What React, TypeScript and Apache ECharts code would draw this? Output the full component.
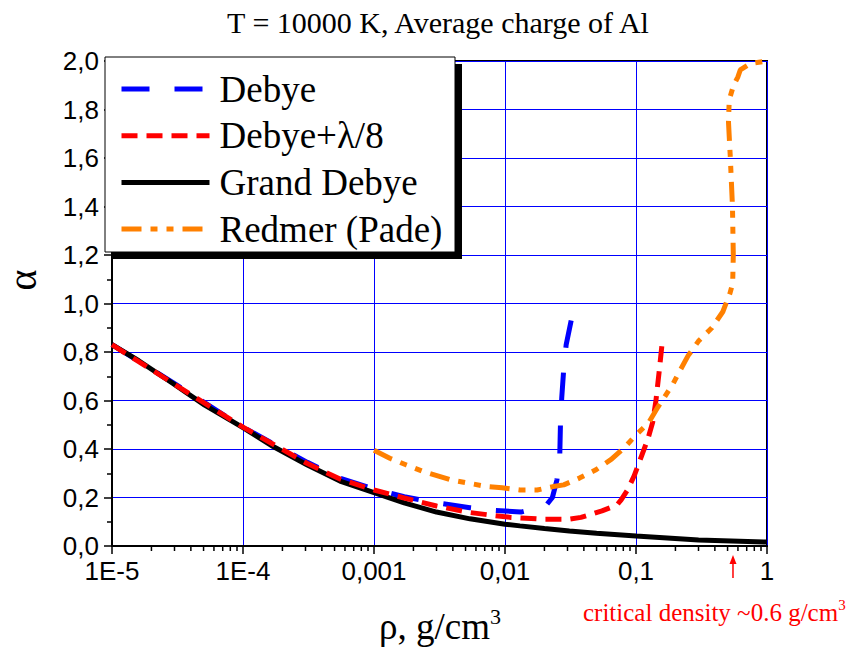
import React, { useEffect, useRef } from 'react';
import * as echarts from 'echarts';

const TITLE = 'T = 10000 K, Average charge of Al';
const X_NAME = 'ρ, g/cm';
const Y_NAME = 'α';
const NOTE = 'critical density ~0.6 g/cm';

const xTickExponents = [-5, -4, -3, -2, -1, 0];
const xTickLabels = ['1E-5', '1E-4', '0,001', '0,01', '0,1', '1'];
const minorMultipliers = [2, 3, 4, 5, 6, 7, 8, 9];

const seriesNames = ['Debye', 'Debye+λ/8', 'Grand Debye', 'Redmer (Pade)'];
const seriesColors = ['#0000ff', '#ff0000', '#000000', '#ff8000'];
const seriesDashes: any[] = [[28, 25], [16, 9], 'solid', [20, 9, 7, 9, 7, 9]];

const debyeRho = [1e-5, 2.9e-5, 1e-4, 3.1e-4, 5.5e-4, 1e-3, 1.7e-3, 3e-3, 5.4e-3, 8.4e-3, 1.32e-2, 2.05e-2, 2.3e-2, 2.49e-2, 2.62e-2, 2.65e-2, 2.71e-2, 2.8e-2, 2.93e-2, 3.2e-2];
const debyeAlpha = [0.83, 0.675, 0.49, 0.345, 0.28, 0.235, 0.203, 0.178, 0.158, 0.147, 0.14, 0.166, 0.2, 0.272, 0.38, 0.5, 0.61, 0.72, 0.83, 0.93];

const lambdaRho = [1e-5, 2.9e-5, 1e-4, 3.1e-4, 5.5e-4, 1e-3, 1.7e-3, 3e-3, 5.4e-3, 8.4e-3, 1.1e-2, 2e-2, 3e-2, 3.8e-2, 4.5e-2, 5.5e-2, 7.15e-2, 7.7e-2, 8.6e-2, 9.7e-2, 0.11, 0.123, 0.134, 0.142, 0.151, 0.16];
const lambdaAlpha = [0.83, 0.672, 0.49, 0.34, 0.276, 0.231, 0.198, 0.165, 0.138, 0.125, 0.118, 0.11, 0.11, 0.118, 0.13, 0.145, 0.169, 0.19, 0.23, 0.29, 0.37, 0.44, 0.51, 0.6, 0.73, 0.86];

const grandRho = [1e-5, 1.6e-5, 2.9e-5, 5.1e-5, 1e-4, 1.7e-4, 3.1e-4, 5.5e-4, 1e-3, 1.7e-3, 3e-3, 5.4e-3, 1e-2, 1.3e-2, 2e-2, 3.1e-2, 0.05, 0.1, 0.3, 1];
const grandAlpha = [0.83, 0.764, 0.671, 0.581, 0.488, 0.41, 0.334, 0.268, 0.22, 0.178, 0.14, 0.112, 0.09, 0.083, 0.072, 0.062, 0.053, 0.041, 0.025, 0.016];

const redmerRho = [0.001, 0.00132, 0.00177, 0.0024, 0.0039, 0.0054, 0.0073, 0.0095, 0.013, 0.0176, 0.0233, 0.0281, 0.037, 0.049, 0.065, 0.083, 0.1, 0.124, 0.147, 0.19, 0.22, 0.25, 0.3, 0.38, 0.46, 0.492, 0.522, 0.547, 0.553, 0.545, 0.525, 0.508, 0.515, 0.556, 0.6, 0.625, 0.75, 1.0];
const redmerAlpha = [0.395, 0.362, 0.334, 0.306, 0.272, 0.258, 0.245, 0.24, 0.231, 0.231, 0.245, 0.252, 0.28, 0.313, 0.358, 0.41, 0.458, 0.506, 0.573, 0.665, 0.73, 0.785, 0.845, 0.9, 0.966, 1.007, 1.043, 1.083, 1.2, 1.4, 1.6, 1.75, 1.84, 1.9, 1.935, 1.963, 1.99, 2.0];

const criticalDensityRho = 0.55;

const SERIF = "'Liberation Serif', 'Times New Roman', Times, serif";
const SANS = "'Liberation Sans Narrow', 'Arial Narrow', 'Liberation Sans', Arial, sans-serif";

const pairs = (xs: number[], ys: number[]) => xs.map((x, i) => [x, ys[i]]);

export default function App() {
  const ref = useRef<HTMLDivElement>(null);

  useEffect(() => {
    const chart = echarts.init(ref.current!, null, { renderer: 'svg' });

    const minorTickData: number[][] = [];
    for (let i = 0; i < xTickExponents.length - 1; i++) {
      for (const m of minorMultipliers) minorTickData.push([m * Math.pow(10, xTickExponents[i]), 0]);
    }

    const line = (idx: number, rho: number[], alpha: number[]) => ({
      name: seriesNames[idx],
      type: 'line',
      data: pairs(rho, alpha),
      symbol: 'none',
      showSymbol: false,
      color: seriesColors[idx],
      clip: false,
      lineStyle: { color: seriesColors[idx], width: 5, type: seriesDashes[idx] },
      z: 2,
    });

    const option: any = {
      animation: false,
      grid: {
        left: 112, top: 61, width: 655, height: 485,
        show: true, borderColor: '#000', borderWidth: 2, backgroundColor: 'transparent',
      },
      xAxis: {
        type: 'log', logBase: 10, min: 1e-5, max: 1, splitNumber: 5,
        axisLine: { lineStyle: { color: '#000', width: 2 } },
        axisTick: { show: true, length: 8, lineStyle: { color: '#000', width: 1.5 } },
        splitLine: { show: true, lineStyle: { color: '#0000ff', width: 1 } },
        axisLabel: {
          fontSize: 26, fontFamily: SANS, color: '#000', margin: 12,
          formatter: (v: number) => {
            const e = Math.round(Math.log10(v));
            const idx = xTickExponents.indexOf(e);
            return idx >= 0 ? xTickLabels[idx] : '';
          },
        },
      },
      yAxis: {
        type: 'value', min: 0, max: 2, interval: 0.2,
        axisLine: { show: true, lineStyle: { color: '#000', width: 2 } },
        axisTick: { show: true, length: 8, lineStyle: { color: '#000', width: 1.5 } },
        minorTick: { show: true, splitNumber: 2, length: 5, lineStyle: { color: '#000', width: 1.5 } },
        splitLine: { show: true, lineStyle: { color: '#0000ff', width: 1 } },
        axisLabel: {
          fontSize: 26, fontFamily: SANS, color: '#000', margin: 13,
          formatter: (v: number) => v.toFixed(1).replace('.', ','),
        },
      },
      legend: {
        data: seriesNames.map((n, i) => ({
          name: n,
          itemStyle: { opacity: 0, borderWidth: 0 },
          lineStyle: { width: 5, type: seriesDashes[i], color: seriesColors[i] },
        })),
        orient: 'vertical',
        left: 119, top: 68,
        padding: 0,
        itemWidth: 88, itemHeight: 14, itemGap: 4.7,
        selectedMode: false,
        z: 10,
        itemStyle: { opacity: 0, borderWidth: 0 },
        textStyle: { fontSize: 37, fontFamily: SERIF, color: '#000', lineHeight: 42, padding: [0, 0, 0, 5] },
      },
      graphic: {
        elements: [
          { type: 'rect', z: 3, shape: { x: 112, y: 64, width: 350, height: 195 }, style: { fill: '#000' } },
          { type: 'rect', z: 4, shape: { x: 105, y: 57, width: 350, height: 195 }, style: { fill: '#fff', stroke: '#000', lineWidth: 1 } },
          { type: 'text', z: 5, x: 438, y: 22, style: { text: TITLE, fontSize: 30, fontFamily: SERIF, fill: '#000', align: 'center', verticalAlign: 'middle' } },
          { type: 'text', z: 5, x: 22, y: 280, rotation: Math.PI / 2, style: { text: Y_NAME, fontSize: 40, fontFamily: SERIF, fill: '#000', align: 'center', verticalAlign: 'middle' } },
          {
            type: 'text', z: 5, x: 440, y: 625,
            style: {
              text: '{a|' + X_NAME + '}{s|3}', align: 'center', verticalAlign: 'middle', fill: '#000',
              rich: {
                a: { fontSize: 37, fontFamily: SERIF, lineHeight: 40, verticalAlign: 'bottom' },
                s: { fontSize: 22, fontFamily: SERIF, lineHeight: 22, verticalAlign: 'top' },
              },
            },
          },
          {
            type: 'text', z: 5, x: 583, y: 611,
            style: {
              text: '{a|' + NOTE + '}{s|3}', align: 'left', verticalAlign: 'middle', fill: '#ff0000',
              rich: {
                a: { fontSize: 25, fontFamily: SERIF, lineHeight: 27, verticalAlign: 'bottom', color: '#ff0000' },
                s: { fontSize: 15, fontFamily: SERIF, lineHeight: 15, verticalAlign: 'top', color: '#ff0000' },
              },
            },
          },
        ],
      },
      series: [
        line(0, debyeRho, debyeAlpha),
        line(2, grandRho, grandAlpha),
        line(1, lambdaRho, lambdaAlpha),
        line(3, redmerRho, redmerAlpha),
        {
          name: 'minorTicks', type: 'custom', data: minorTickData, clip: false, silent: true, z: 6,
          renderItem: (_p: any, api: any) => {
            const p = api.coord([api.value(0), api.value(1)]);
            return { type: 'line', shape: { x1: p[0], y1: p[1], x2: p[0], y2: p[1] + 5 }, style: { stroke: '#000', lineWidth: 1.5 } };
          },
        },
        {
          name: 'criticalArrow', type: 'custom', data: [[criticalDensityRho, 0]], clip: false, silent: true, z: 6,
          renderItem: (_p: any, api: any) => {
            const p = api.coord([api.value(0), api.value(1)]);
            return {
              type: 'group',
              children: [
                { type: 'line', shape: { x1: p[0], y1: p[1] + 16, x2: p[0], y2: p[1] + 32 }, style: { stroke: '#ff0000', lineWidth: 1.5 } },
                { type: 'polygon', shape: { points: [[p[0], p[1] + 9], [p[0] - 3.5, p[1] + 18], [p[0] + 3.5, p[1] + 18]] }, style: { fill: '#ff0000' } },
              ],
            };
          },
        },
      ],
    };

    chart.setOption(option);
    return () => chart.dispose();
  }, []);

  return <div ref={ref} style={{ position: 'absolute', left: 0, top: 0, width: 852, height: 649 }} />;
}
